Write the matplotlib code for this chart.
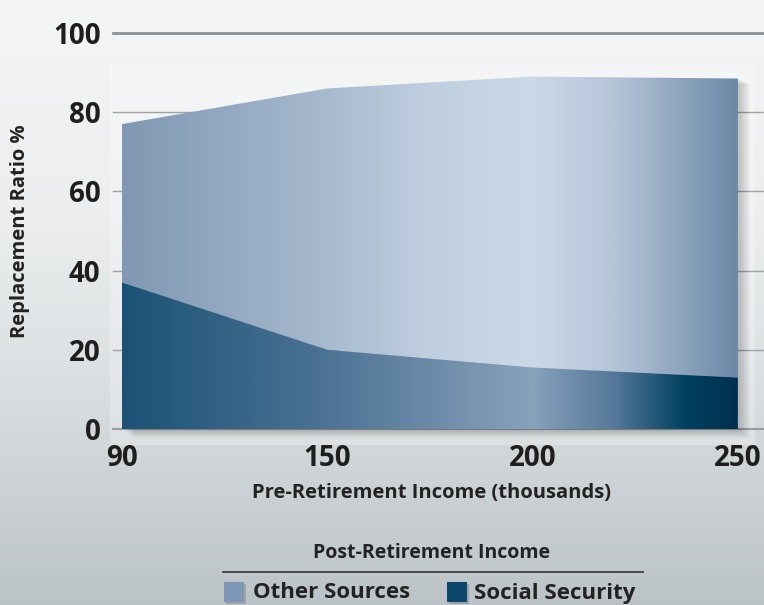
import numpy as np
import matplotlib.pyplot as plt
from matplotlib.colors import LinearSegmentedColormap
from matplotlib.patches import Rectangle
from matplotlib.lines import Line2D

plt.rcParams['font.family'] = ['Open Sans', 'DejaVu Sans']

# data
incomes = ["90", "150", "200", "250"]
social_security = [37, 20, 15.5, 13]
other_sources = [40, 66, 73.5, 75.5]
yticks = [0, 20, 40, 60, 80, 100]

x = np.arange(len(incomes))
social = np.array(social_security)
total = social + np.array(other_sources)

W, H = 764, 605
fig = plt.figure(figsize=(W / 100, H / 100), dpi=100)

# background: vertical gradient (light on top, darker at the bottom)
bg = fig.add_axes([0, 0, 1, 1], zorder=-5)
bg.axis("off")
bg_cmap = LinearSegmentedColormap.from_list(
    "bg", [(0, "#f4f5f5"), (0.35, "#eceeef"), (0.6, "#dde1e3"), (1, "#bcc3c7")])
bg.imshow(np.linspace(0, 1, 256)[:, None], cmap=bg_cmap, aspect="auto",
          extent=[0, 1, 0, 1], interpolation="bilinear", origin="upper")
bg.set_xlim(0, 1)
bg.set_ylim(0, 1)

# main axes
left_px, right_px = 113, 764
top_px, bottom_px = 33, 429
ax = fig.add_axes([left_px / W, 1 - bottom_px / H,
                   (right_px - left_px) / W, (bottom_px - top_px) / H])
ax.set_facecolor("none")
step = 205.3
ax.set_xlim((left_px - 122) / step, (right_px - 122) / step)
ax.set_ylim(0, 100)

# light panel behind the plot
ax.add_patch(Rectangle(((110 - 122) / step, -4), (755 - 110) / step, 96.5,
                       facecolor="white", alpha=0.25, edgecolor="none",
                       clip_on=False, zorder=0))

# gridlines
for yv in yticks:
    if yv == 100:
        ax.axhline(yv, color="#8b9295", lw=2.0, zorder=1, clip_on=False)
    elif yv == 0:
        ax.axhline(yv, color="#979da0", lw=1.5, zorder=1, clip_on=False)
    else:
        ax.axhline(yv, color="#9ea3a6", lw=1.0, zorder=1, clip_on=False)

# soft shadow behind the areas
for i in range(1, 7):
    ax.fill_between(x + i * 0.009, -i * 0.35, total - i * 0.2, color="black",
                    alpha=0.035, lw=0, zorder=2, clip_on=False)


def gradient_fill(lower, upper, stops, z):
    coll = ax.fill_between(x, lower, upper, facecolor="none", edgecolor="none", zorder=z)
    pos = [s[0] / 3 for s in stops]
    cmap = LinearSegmentedColormap.from_list("g", list(zip(pos, [s[1] for s in stops])))
    im = ax.imshow(np.linspace(0, 1, 512)[None, :], cmap=cmap, aspect="auto",
                   extent=[0, 3, 0, 100], interpolation="bilinear", zorder=z)
    im.set_clip_path(coll.get_paths()[0], ax.transData)


other_stops = [(0, "#8098b3"), (0.9, "#a3b6cc"), (1.5, "#c0cfe0"), (2.0, "#cbd8e8"),
               (2.4, "#b5c5d8"), (3.0, "#6c89a7")]
social_stops = [(0, "#1a5275"), (1.0, "#4d7395"), (1.7, "#7794b0"), (2.0, "#87a2bb"),
                (2.4, "#55789a"), (2.75, "#00415f"), (3.0, "#00304f")]

gradient_fill(social, total, other_stops, 3)
gradient_fill(np.zeros_like(social), social, social_stops, 4)

# ticks
ax.set_xticks(x)
ax.set_xticklabels(incomes, fontsize=20, fontweight="bold", color="#1e1e1e")
ax.set_yticks(yticks)
ax.set_yticklabels([str(v) for v in yticks], fontsize=20, fontweight="bold", color="#1e1e1e")
ax.tick_params(axis="both", length=0)
ax.tick_params(axis="x", pad=11)
ax.tick_params(axis="y", pad=9)
for s in ax.spines.values():
    s.set_visible(False)

# axis labels
fig.text(431 / W, 1 - 493 / H, "Pre-Retirement Income (thousands)", ha="center",
         va="center", fontsize=14.5, fontweight="bold", color="#222222")
fig.text(20 / W, 1 - 231 / H, "Replacement Ratio %", ha="center", va="center",
         rotation=90, fontsize=14.5, fontweight="bold", color="#222222")

# legend
fig.text(432 / W, 1 - 553 / H, "Post-Retirement Income", ha="center", va="center",
         fontsize=14, fontweight="bold", color="#222222")
fig.add_artist(Line2D([223 / W, 643 / W], [1 - 572 / H, 1 - 572 / H],
                      color="#333333", lw=1.2))
legend_items = [("Other Sources", "#7e97b4", 224, 253),
                ("Social Security", "#0b486c", 447, 474)]
for label, col, sx, tx in legend_items:
    fig.add_artist(Rectangle(((sx + 2) / W, 1 - 604 / H), 20 / W, 20 / H,
                             facecolor="#7f8588", alpha=0.5, edgecolor="none"))
    fig.add_artist(Rectangle((sx / W, 1 - 602 / H), 20 / W, 20 / H,
                             facecolor=col, edgecolor="none"))
    fig.text(tx / W, 1 - 593 / H, label, ha="left", va="center", fontsize=16,
             fontweight="bold", color="#222222")

fig.savefig("out.png", dpi=100)
